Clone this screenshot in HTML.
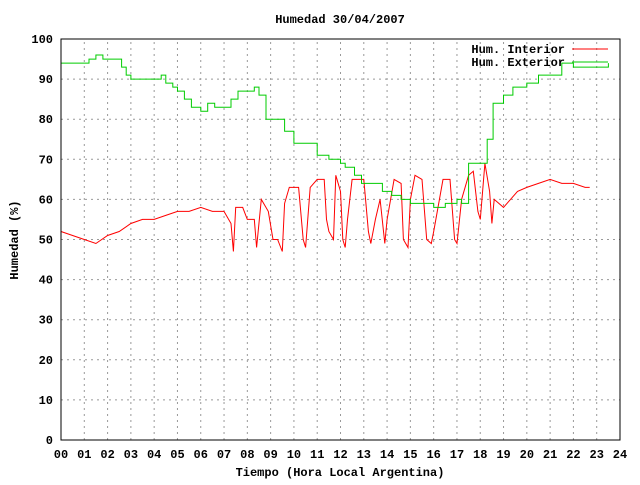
<!DOCTYPE html>
<html><head><meta charset="utf-8"><style>
body{margin:0;background:#fff}
svg text{font-family:"Liberation Mono",monospace;font-size:12px;font-weight:bold;fill:#000}
</style></head><body>
<svg id="chart" width="640" height="480" xmlns="http://www.w3.org/2000/svg">
<rect width="640" height="480" fill="#fff"/>
<text x="340" y="23" text-anchor="middle">Humedad 30/04/2007</text>
<text x="340" y="476" text-anchor="middle">Tiempo (Hora Local Argentina)</text>
<text x="18" y="240" text-anchor="middle" transform="rotate(-90 18 240)">Humedad (%)</text>
<g id="grid"></g>
<g id="series"></g>
<rect x="61" y="39" width="559" height="401" fill="none" stroke="#000" stroke-width="1"/>
<g>
<text x="565" y="53" text-anchor="end">Hum. Interior</text>
<line x1="572" y1="49" x2="608" y2="49" stroke="#f00"/>
<text x="565" y="66" text-anchor="end">Hum. Exterior</text>
<line x1="572" y1="62" x2="608" y2="62" stroke="#0c0"/>
</g>
</svg>
<script>
const xTicks=["00","01","02","03","04","05","06","07","08","09","10","11","12","13","14","15","16","17","18","19","20","21","22","23","24"];
const yTicks=[0,10,20,30,40,50,60,70,80,90,100];
const extHours=[0,1.1,1.2,1.5,1.8,2.4,2.6,2.8,3,4.2,4.3,4.5,4.8,5,5.3,5.6,6,6.3,6.6,7,7.3,7.6,8.1,8.3,8.5,8.8,9.3,9.6,10,10.6,11,11.5,12,12.2,12.6,12.9,13.3,13.8,14.2,14.6,15,15.5,16,16.5,17,17.2,17.5,18,18.3,18.55,19,19.4,20,20.5,21.2,21.5,22,22.5,23.5];
const extValues=[94,94,95,96,95,95,93,91,90,90,91,89,88,87,85,83,82,84,83,83,85,87,87,88,86,80,80,77,74,74,71,70,69,68,66,64,64,62,61,60,59,59,58,59,60,59,69,69,75,84,86,88,89,91,91,94,93,93,94];
const intHours=[0,0.5,1,1.5,2,2.5,3,3.5,4,4.5,5,5.5,6,6.5,7,7.3,7.4,7.5,7.8,8,8.3,8.4,8.6,8.9,9.1,9.3,9.5,9.6,9.8,10.2,10.4,10.5,10.7,11,11.3,11.4,11.5,11.7,11.8,12,12.1,12.2,12.3,12.5,13,13.2,13.3,13.5,13.7,13.9,14,14.3,14.6,14.7,14.9,15,15.2,15.5,15.7,15.9,16,16.4,16.7,16.9,17,17.2,17.5,17.7,17.9,18,18.2,18.4,18.5,18.6,19,19.3,19.6,20,20.5,21,21.5,22,22.5,22.7];
const intValues=[52,51,50,49,51,52,54,55,55,56,57,57,58,57,57,54,47,58,58,55,55,48,60,57,50,50,47,59,63,63,50,48,63,65,65,55,52,50,66,62,50,48,55,65,65,52,49,55,60,49,55,65,64,50,48,60,66,65,50,49,52,65,65,50,49,60,66,67,57,55,69,62,54,60,58,60,62,63,64,65,64,64,63,63];
const X0=61,X1=620,Y0=440,Y1=39;
const xs=h=>X0+(X1-X0)*h/24, ys=v=>Y0-(Y0-Y1)*v/100;
const NS="http://www.w3.org/2000/svg";
const grid=document.getElementById('grid'), svg=document.getElementById('chart');
function mk(t,a,p){const e=document.createElementNS(NS,t);for(const k in a)e.setAttribute(k,a[k]);p.appendChild(e);return e;}
xTicks.forEach((t,i)=>{const x=xs(i);
 if(i>0&&i<24){const g=mk('line',{x1:x,y1:Y0,x2:x,y2:Y1,stroke:'#999','stroke-dasharray':'2,4'},grid);
 
 }
 const l=mk('text',{x:x,y:458,'text-anchor':'middle'},svg);l.textContent=t;
 
 });
yTicks.forEach(v=>{const y=ys(v);
 if(v>0&&v<100){const g=mk('line',{x1:X0,y1:y,x2:X1,y2:y,stroke:'#999','stroke-dasharray':'2,4'},grid);
 
 }
 const l=mk('text',{x:53,y:y+4,'text-anchor':'end'},svg);l.textContent=v;
 
 });
const ser=document.getElementById('series');
function path(hs,vs,c,name,step){let d='';hs.forEach((h,i)=>{
  if(i===0){d+='M'+xs(h).toFixed(1)+' '+ys(vs[i]).toFixed(1);}
  else if(step){d+='L'+xs(h).toFixed(1)+' '+ys(vs[i-1]).toFixed(1)+'L'+xs(h).toFixed(1)+' '+ys(vs[i]).toFixed(1);}
  else{d+='L'+xs(h).toFixed(1)+' '+ys(vs[i]).toFixed(1);}});
 const p=mk('path',{d:d,fill:'none',stroke:c,'stroke-width':1},ser);
 
 }
path(intHours,intValues,'#f00','interior-humidity-line',false);
path(extHours,extValues,'#0c0','exterior-humidity-line',true);
</script>
</body></html>
